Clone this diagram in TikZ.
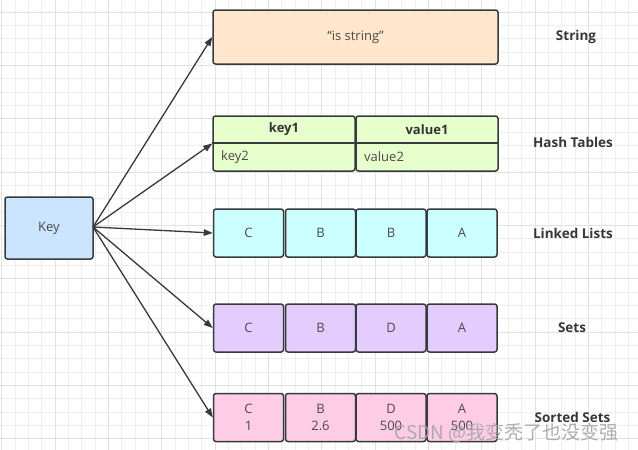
\documentclass[tikz,border=0pt]{standalone}
\usepackage{fontspec}
\setmainfont{Open Sans}
\newfontfamily\cjk{Noto Sans CJK SC}
\usetikzlibrary{arrows.meta}
\definecolor{strk}{HTML}{36393D}
\definecolor{txt}{HTML}{4A4A4A}
\definecolor{cstr}{HTML}{FFE6CC}
\definecolor{chash}{HTML}{E6FFCC}
\definecolor{clist}{HTML}{CCFFFF}
\definecolor{cset}{HTML}{E5CCFF}
\definecolor{czset}{HTML}{FFCCE6}
\definecolor{ckey}{HTML}{CCE5FF}
\definecolor{gminor}{HTML}{EEEEEE}
\definecolor{gmajor}{HTML}{E2E2E2}
\tikzset{
  box/.style={draw=strk, line width=1.5pt, rounded corners=2.5pt, inner sep=0pt, text=txt, font=\fontsize{13}{15}\selectfont},
  cell/.style={box, minimum width=70pt, minimum height=48pt},
  lbl/.style={text=txt!75!black, font=\fontsize{13.5}{16}\selectfont\bfseries},
  arr/.style={draw=strk, line width=1.3pt, -{Triangle[length=9pt,width=6.5pt]}},
}
\begin{document}
\begin{tikzpicture}[x=1pt,y=-1pt]
\useasboundingbox (0,0) rectangle (638,450);
\fill[white] (0,0) rectangle (638,450);
% grid
\foreach \i in {0,...,48} {
  \draw[gminor, line width=0.8pt] ({1.7+13.333*\i},0) -- ++(0,450);
}
\foreach \i in {0,...,34} {
  \draw[gminor, line width=0.8pt] (0,{-1.3+13.333*\i}) -- ++(638,0);
}
\foreach \i in {0,...,12} {
  \draw[gmajor, line width=1pt] ({1.7+53.333*\i},0) -- ++(0,450);
}
\foreach \i in {0,...,9} {
  \draw[gmajor, line width=1pt] (0,{12+53.333*\i}) -- ++(638,0);
}
% key
\node[box, fill=ckey, minimum width=88pt, minimum height=62pt] (key) at (49,228) {Key};
% string
\node[box, fill=cstr, minimum width=285pt, minimum height=54pt] (str) at (355.5,37) {“is string”};
% hash tables
\node[box, fill=chash, minimum width=142pt, minimum height=55pt] (hk) at (284,143.5) {};
\node[box, fill=chash, minimum width=142pt, minimum height=55pt] (hv) at (427,143.5) {};
\draw[strk, line width=1.5pt] (hk.west |- 0,143) -- (hk.east |- 0,143);
\draw[strk, line width=1.5pt] (hv.west |- 0,143) -- (hv.east |- 0,143);
\node[lbl, text=txt!70!black, font=\fontsize{13}{15}\selectfont\bfseries] (hk1) at (284,129.5) {key1};
\node[lbl, text=txt!70!black, font=\fontsize{13}{15}\selectfont\bfseries] (hv1) at (427,129.5) {value1};
\node[text=txt, font=\fontsize{13}{15}\selectfont, anchor=west, inner sep=0pt] (hk2) at (221,157) {key2};
\node[text=txt, font=\fontsize{13}{15}\selectfont, anchor=west, inner sep=0pt] (hv2) at (364,157) {value2};
% linked lists
\node[cell, fill=clist] (l1) at (248.5,233) {C};
\node[cell, fill=clist] (l2) at (320.5,233) {B};
\node[cell, fill=clist] (l3) at (391,233) {B};
\node[cell, fill=clist] (l4) at (462,233) {A};
% sets
\node[cell, fill=cset] (t1) at (248.5,328) {C};
\node[cell, fill=cset] (t2) at (320.5,328) {B};
\node[cell, fill=cset] (t3) at (391,328) {D};
\node[cell, fill=cset] (t4) at (462,328) {A};
% sorted sets
\tikzset{zcell/.style={cell, fill=czset, align=center, font=\fontsize{13}{16.5}\selectfont}}
\node[zcell] (z1) at (248.5,417.5) {C\\1};
\node[zcell] (z2) at (320.5,417.5) {B\\2.6};
\node[zcell] (z3) at (391,417.5) {D\\500};
\node[zcell] (z4) at (462,417.5) {A\\500};
% labels
\node[lbl] (ls) at (576,37) {String};
\node[lbl] (lh) at (573,142) {Hash Tables};
\node[lbl] (ll) at (573,233) {Linked Lists};
\node[lbl] (lt) at (572,328) {Sets};
\node[lbl] (lz) at (572.5,417) {Sorted Sets};
% arrows
\coordinate (o) at (93,227);
\draw[arr] (o) -- (str.west);
\draw[arr] (o) -- (hk.west);
\draw[arr] (o) -- (l1.west);
\draw[arr] (o) -- (t1.west);
\draw[arr] (o) -- (z1.west);
% watermark
\node[text=gray!70, opacity=0.9, font=\cjk\fontsize{19}{22}\selectfont, inner sep=0pt] (wm) at (506.5,433) {CSDN @我变秃了也没变强};
\end{tikzpicture}
\end{document}
